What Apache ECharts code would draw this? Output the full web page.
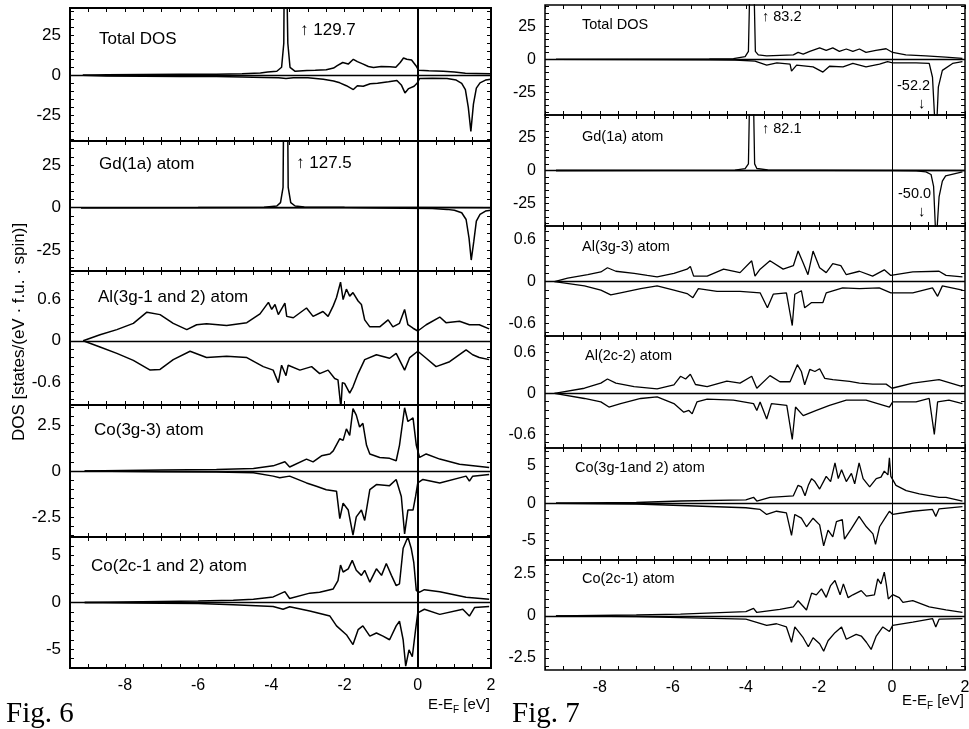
<!DOCTYPE html>
<html>
<head>
<meta charset="utf-8">
<script src="https://cdn.jsdelivr.net/npm/echarts@6/dist/echarts.min.js"></script>
<style>
  html, body { margin: 0; padding: 0; background: #fff; }
  #chart { width: 969px; height: 729px; }
</style>
</head>
<body>
<div id="chart"></div>
<script>
// ---- data: [E - EF (eV), DOS] ----
const xLabels = [-8, -6, -4, -2, 0, 2];
const yLabels25 = [-25, 0, 25];
const yLabels06 = [-0.6, 0, 0.6];
const yLabels25s = [-2.5, 0, 2.5];
const yLabels5 = [-5, 0, 5];

// Fig. 6
const f6TotalUp = [[-9.15,0],[-8.5,0.4],[-7.5,0.5],[-6.5,0.6],[-5.5,0.7],[-4.8,1.0],[-4.3,1.5],[-4.1,2.0],[-3.85,2.5],[-3.72,5],[-3.66,20],[-3.63,130],[-3.59,130],[-3.55,20],[-3.49,5],[-3.35,2.5],[-3.03,3.0],[-2.8,3.2],[-2.5,3.5],[-2.3,4.5],[-2.2,6],[-2.05,8],[-1.9,7],[-1.76,10],[-1.65,8.5],[-1.49,7],[-1.35,5.5],[-1.21,4.9],[-1.0,5.5],[-0.76,5.3],[-0.6,5.0],[-0.48,8],[-0.39,10.8],[-0.3,10],[-0.17,9.5],[-0.05,6],[0.02,3.2],[0.3,2.8],[0.7,2.6],[1.0,2.0],[1.3,1.3],[1.6,1.2],[2,1.0]];
const f6TotalDn = [[-9.15,0],[-8.5,-0.4],[-7.5,-0.6],[-6.5,-0.7],[-5.5,-0.8],[-4.8,-1.0],[-4.2,-1.3],[-3.8,-1.6],[-3.6,-2.0],[-3.4,-1.5],[-3.0,-1.5],[-2.58,-2.5],[-2.3,-3.5],[-2.13,-4.7],[-1.95,-6.5],[-1.76,-8.9],[-1.65,-6.5],[-1.49,-6.8],[-1.3,-5.3],[-1.1,-5.0],[-0.8,-4.0],[-0.57,-3.2],[-0.45,-6],[-0.35,-11],[-0.25,-8.3],[-0.1,-6.8],[-0.02,-5],[0.05,-2.0],[0.4,-1.9],[0.8,-2.0],[1.05,-3.0],[1.2,-5],[1.3,-9],[1.38,-20],[1.45,-35],[1.52,-18],[1.6,-8],[1.7,-4.7],[1.85,-3],[2,-2.5]];
const f6GdUp = [[-9.2,0],[-6,0.1],[-4.2,0.2],[-3.85,1.0],[-3.75,3],[-3.68,12],[-3.64,128],[-3.58,128],[-3.54,12],[-3.47,3],[-3.35,1.0],[-3.1,0.4],[-2,0.2],[0,0.1],[2,0]];
const f6GdDn = [[-9.2,0],[-2,-0.1],[0.4,-0.5],[0.8,-1.0],[1.0,-1.5],[1.2,-3],[1.32,-7],[1.4,-18],[1.46,-31],[1.53,-20],[1.6,-8],[1.7,-4],[1.85,-2],[2,-1.5]];
const f6AlUp = [[-9.14,0],[-8.68,0.087],[-8.22,0.16],[-7.77,0.25],[-7.4,0.41],[-7.04,0.375],[-6.68,0.25],[-6.31,0.16],[-6.04,0.23],[-5.77,0.245],[-5.22,0.22],[-4.67,0.26],[-4.31,0.385],[-4.08,0.55],[-3.99,0.45],[-3.9,0.52],[-3.81,0.375],[-3.63,0.54],[-3.58,0.35],[-3.4,0.33],[-3.04,0.47],[-2.86,0.35],[-2.59,0.42],[-2.45,0.35],[-2.31,0.5],[-2.22,0.62],[-2.11,0.84],[-2.04,0.59],[-1.95,0.74],[-1.86,0.64],[-1.77,0.69],[-1.63,0.57],[-1.54,0.52],[-1.45,0.3],[-1.31,0.2],[-1.04,0.2],[-0.81,0.3],[-0.68,0.2],[-0.5,0.25],[-0.36,0.45],[-0.27,0.23],[-0.13,0.18],[0,0.14],[0.23,0.23],[0.6,0.34],[0.77,0.26],[1.14,0.28],[1.41,0.23],[1.68,0.23],[1.95,0.17]];
const f6AlDn = [[-9.14,0],[-8.68,-0.09],[-8.22,-0.18],[-7.77,-0.28],[-7.31,-0.42],[-7.04,-0.41],[-6.68,-0.27],[-6.22,-0.15],[-5.77,-0.24],[-5.22,-0.22],[-4.67,-0.24],[-4.22,-0.37],[-3.95,-0.42],[-3.81,-0.6],[-3.72,-0.35],[-3.6,-0.5],[-3.54,-0.35],[-3.22,-0.42],[-2.9,-0.37],[-2.68,-0.47],[-2.45,-0.42],[-2.27,-0.54],[-2.18,-0.56],[-2.1,-0.96],[-2.06,-0.6],[-2.0,-0.61],[-1.86,-0.75],[-1.77,-0.66],[-1.63,-0.47],[-1.45,-0.27],[-1.13,-0.2],[-0.77,-0.25],[-0.59,-0.18],[-0.36,-0.42],[-0.22,-0.24],[0,-0.15],[0.23,-0.25],[0.5,-0.37],[0.87,-0.3],[1.32,-0.13],[1.5,-0.2],[1.68,-0.24],[1.95,-0.27]];
const f6Co3gUp = [[-9.1,0],[-7,0.05],[-5.5,0.08],[-4.49,0.13],[-3.95,0.28],[-3.63,0.5],[-3.5,0.22],[-3.04,0.65],[-2.86,0.5],[-2.63,0.83],[-2.4,0.93],[-2.31,1.1],[-2.13,1.76],[-2.04,1.67],[-1.95,2.3],[-1.86,1.94],[-1.77,3.4],[-1.68,3.05],[-1.59,2.4],[-1.5,2.6],[-1.4,1.4],[-1.31,0.93],[-1.04,0.74],[-0.77,0.69],[-0.59,0.56],[-0.5,1.4],[-0.36,3.45],[-0.27,2.7],[-0.13,2.9],[-0.04,1.4],[0.05,0.74],[0.23,0.93],[0.6,0.65],[1.14,0.37],[1.95,0.19]];
const f6Co3gDn = [[-9.1,0],[-7,-0.04],[-5.5,-0.06],[-4.49,-0.1],[-3.95,-0.28],[-3.77,-0.37],[-3.5,-0.28],[-3.04,-0.65],[-2.77,-0.83],[-2.5,-1.02],[-2.22,-1.1],[-2.13,-2.6],[-2.04,-1.76],[-1.9,-2.13],[-1.77,-3.5],[-1.68,-2.5],[-1.54,-2.13],[-1.45,-2.7],[-1.31,-1.02],[-1.13,-0.74],[-0.77,-0.8],[-0.59,-0.46],[-0.45,-1.39],[-0.36,-3.43],[-0.27,-2.13],[-0.13,-2.13],[-0.06,-1.39],[0,-0.65],[0.14,-0.46],[0.6,-0.65],[1.32,-0.28],[1.41,-0.55],[1.5,-0.28],[1.95,-0.19]];
const f6Co2cUp = [[-9.1,0],[-7,0.1],[-6,0.15],[-5.04,0.25],[-4.49,0.36],[-3.95,0.6],[-3.63,1.16],[-3.5,0.43],[-2.95,1.0],[-2.68,1.1],[-2.31,1.45],[-2.18,2.35],[-2.11,4.0],[-2.04,3.26],[-1.9,3.6],[-1.79,4.5],[-1.68,3.44],[-1.54,2.9],[-1.45,3.44],[-1.31,2.17],[-1.13,3.6],[-0.99,2.9],[-0.86,4.17],[-0.72,2.9],[-0.59,1.8],[-0.5,2.0],[-0.4,5.8],[-0.27,7.0],[-0.18,5.8],[-0.11,4.3],[-0.04,1.27],[0.05,1.1],[0.18,1.37],[0.6,1.16],[1.32,0.55],[1.95,0.36]];
const f6Co2cDn = [[-9.1,0],[-7,-0.08],[-6,-0.12],[-5.04,-0.25],[-3.95,-0.43],[-3.68,-0.72],[-3.5,-0.45],[-2.95,-0.9],[-2.4,-1.45],[-2.22,-2.5],[-1.95,-3.44],[-1.77,-4.5],[-1.63,-2.9],[-1.5,-2.5],[-1.31,-3.6],[-1.13,-3.26],[-0.95,-3.6],[-0.77,-3.98],[-0.59,-2.5],[-0.5,-2.0],[-0.4,-3.98],[-0.33,-6.8],[-0.24,-5.07],[-0.15,-5.8],[-0.06,-2.9],[0,-1.1],[0.18,-0.72],[0.6,-1.27],[1.23,-0.72],[1.41,-1.45],[1.55,-0.54],[1.95,-0.43]];

// Fig. 7
const f7TotalUp = [[-9.2,0],[-7,0.2],[-5,0.3],[-4.34,0.5],[-4.02,2],[-3.93,6],[-3.87,84],[-3.8,84],[-3.74,6],[-3.66,3.4],[-3.43,2.6],[-2.7,3.4],[-2.57,5.2],[-2.43,3.9],[-2.25,6],[-1.98,8.6],[-1.8,6.8],[-1.62,8.6],[-1.44,6],[-1.25,7.8],[-1.07,6],[-0.89,7.8],[-0.71,5.2],[-0.44,6.8],[-0.16,8],[0.02,5.2],[0.38,3.4],[0.93,2.6],[1.47,1.6],[1.93,0.8]];
const f7TotalDn = [[-9.2,0],[-7,-0.2],[-5,-0.3],[-4.3,-0.5],[-3.75,-1.3],[-3.43,-4.4],[-3.15,-2.6],[-2.79,-3.6],[-2.75,-8.9],[-2.61,-4.4],[-2.16,-5.7],[-1.89,-9.6],[-1.71,-5.2],[-1.34,-5.7],[-1.07,-3.1],[-0.71,-5.7],[-0.34,-3.6],[-0.12,-1.8],[0.02,-2.6],[0.66,-2.6],[1.02,-3.1],[1.11,-13.5],[1.17,-45],[1.22,-53],[1.27,-21],[1.38,-8.3],[1.66,-3.1],[1.93,-1.8]];
const f7GdUp = [[-9.2,0],[-6,0.1],[-4.3,0.3],[-4.02,1.5],[-3.93,5],[-3.88,83],[-3.81,83],[-3.76,5],[-3.7,1.5],[-3.4,0.4],[-2,0.2],[2,0]];
const f7GdDn = [[-9.2,0],[0,-0.1],[0.66,-0.3],[0.93,-1],[1.07,-3],[1.14,-12],[1.2,-50],[1.24,-42],[1.29,-20],[1.38,-8],[1.47,-4],[1.93,-1]];
const f7Al3gUp = [[-9.24,0],[-8.88,0.05],[-8.33,0.1],[-7.97,0.14],[-7.79,0.2],[-7.56,0.15],[-7.06,0.12],[-6.7,0.09],[-6.43,0.07],[-5.97,0.12],[-5.61,0.18],[-5.52,0.22],[-5.43,0.08],[-5.06,0.08],[-4.61,0.18],[-4.16,0.13],[-3.84,0.3],[-3.75,0.08],[-3.61,0.18],[-3.34,0.3],[-2.98,0.18],[-2.7,0.23],[-2.57,0.44],[-2.43,0.27],[-2.3,0.1],[-2.16,0.44],[-1.98,0.2],[-1.8,0.13],[-1.62,0.26],[-1.4,0.23],[-1.25,0.1],[-0.89,0.15],[-0.53,0.08],[-0.21,0.17],[-0.03,0.09],[0.57,0.14],[1.29,0.15],[1.48,0.09],[1.93,0.07]];
const f7Al3gDn = [[-9.24,0],[-8.42,-0.06],[-7.97,-0.12],[-7.7,-0.19],[-7.43,-0.16],[-6.88,-0.1],[-6.43,-0.06],[-5.97,-0.12],[-5.61,-0.17],[-5.45,-0.23],[-5.3,-0.1],[-4.79,-0.14],[-4.16,-0.14],[-3.61,-0.16],[-3.41,-0.375],[-3.25,-0.18],[-2.89,-0.16],[-2.73,-0.63],[-2.66,-0.18],[-2.48,-0.13],[-2.39,-0.375],[-2.2,-0.3],[-1.89,-0.3],[-1.8,-0.16],[-1.35,-0.09],[-0.89,-0.1],[-0.35,-0.09],[-0.03,-0.16],[0.57,-0.16],[1.11,-0.09],[1.25,-0.21],[1.38,-0.06],[1.93,-0.12]];
const f7Al2cUp = [[-9.24,0],[-8.42,0.075],[-7.97,0.15],[-7.79,0.21],[-7.56,0.15],[-7.06,0.1],[-6.43,0.065],[-5.97,0.125],[-5.79,0.25],[-5.65,0.21],[-5.52,0.28],[-5.38,0.13],[-5.06,0.1],[-4.52,0.18],[-4.16,0.15],[-3.84,0.25],[-3.7,0.075],[-3.34,0.26],[-3.07,0.17],[-2.79,0.17],[-2.59,0.42],[-2.48,0.32],[-2.39,0.125],[-2.25,0.35],[-2.11,0.32],[-1.98,0.36],[-1.84,0.22],[-1.62,0.2],[-1.16,0.175],[-0.89,0.15],[-0.53,0.135],[-0.16,0.135],[0,0.075],[0.57,0.15],[1.29,0.2],[1.93,0.1]];
const f7Al2cDn = [[-9.24,0],[-8.42,-0.075],[-7.97,-0.125],[-7.75,-0.2],[-7.43,-0.15],[-6.88,-0.075],[-6.43,-0.05],[-5.97,-0.15],[-5.7,-0.275],[-5.56,-0.25],[-5.47,-0.3],[-5.34,-0.125],[-5.06,-0.085],[-4.34,-0.1],[-3.79,-0.15],[-3.7,-0.25],[-3.61,-0.125],[-3.43,-0.375],[-3.3,-0.15],[-2.88,-0.175],[-2.73,-0.675],[-2.64,-0.2],[-2.43,-0.325],[-2.07,-0.25],[-1.71,-0.175],[-1.25,-0.1],[-0.71,-0.1],[-0.07,-0.2],[0.02,-0.125],[0.66,-0.125],[1.02,-0.075],[1.16,-0.6],[1.25,-0.125],[1.56,-0.1],[1.93,-0.15]];
const f7Co3gUp = [[-9.2,0],[-7,0.1],[-5.79,0.3],[-4.0,0.46],[-3.79,0.8],[-3.7,0.3],[-3.34,0.8],[-2.7,1.0],[-2.57,2.4],[-2.48,2.2],[-2.38,1.0],[-2.29,2.4],[-2.2,3.3],[-2.11,2.9],[-1.98,1.9],[-1.8,3.6],[-1.68,2.9],[-1.56,5.4],[-1.47,3.3],[-1.38,4.5],[-1.25,2.9],[-1.11,4.0],[-1.02,2.6],[-0.9,5.4],[-0.79,3.3],[-0.61,2.2],[-0.43,3.3],[-0.3,3.5],[-0.21,4.3],[-0.11,3.8],[-0.07,6.1],[-0.03,3.6],[0.11,2.4],[0.39,1.7],[0.75,1.25],[1.29,0.8],[1.48,0.8],[1.93,0.3]];
const f7Co3gDn = [[-9.2,0],[-7,-0.1],[-5.79,-0.3],[-4.0,-0.6],[-3.61,-0.83],[-3.43,-1.5],[-3.16,-1.07],[-2.89,-1.3],[-2.75,-4.3],[-2.66,-1.5],[-2.48,-2.0],[-2.34,-3.15],[-2.16,-2.0],[-1.98,-2.9],[-1.87,-5.7],[-1.75,-3.6],[-1.62,-4.5],[-1.52,-2.45],[-1.36,-2.2],[-1.3,-4.8],[-1.11,-3.4],[-0.9,-1.76],[-0.7,-3.15],[-0.52,-4.1],[-0.45,-5.5],[-0.34,-3.15],[-0.16,-1.76],[-0.07,-1.07],[0.02,-1.5],[0.57,-1.07],[1.11,-0.83],[1.2,-1.76],[1.29,-0.75],[1.93,-0.46]];
const f7Co2cUp = [[-9.2,0],[-7,0.05],[-5.79,0.1],[-4.0,0.25],[-3.79,0.44],[-3.7,0.2],[-3.07,0.38],[-2.7,0.53],[-2.57,0.9],[-2.34,0.35],[-2.2,1.35],[-2.07,1.25],[-1.93,1.6],[-1.8,1.1],[-1.68,1.8],[-1.56,2.1],[-1.42,1.25],[-1.33,1.9],[-1.2,1.08],[-1.07,1.25],[-0.84,1.5],[-0.7,1.17],[-0.48,1.25],[-0.39,2.2],[-0.3,1.9],[-0.21,2.6],[-0.15,1.8],[-0.1,1.0],[0.02,1.26],[0.2,1.08],[0.3,0.8],[0.57,0.9],[1.02,0.53],[1.48,0.35],[1.93,0.2]];
const f7Co2cDn = [[-9.2,0],[-7,-0.05],[-5.79,-0.11],[-4.0,-0.2],[-3.43,-0.57],[-3.16,-0.47],[-2.89,-0.66],[-2.75,-1.57],[-2.66,-0.66],[-2.43,-1.3],[-2.29,-1.84],[-2.16,-1.3],[-1.98,-1.66],[-1.87,-2.1],[-1.75,-1.48],[-1.56,-1.0],[-1.38,-0.66],[-1.25,-1.39],[-0.98,-1.1],[-0.84,-1.2],[-0.7,-1.57],[-0.57,-2.0],[-0.43,-1.2],[-0.25,-0.66],[-0.07,-0.93],[0.02,-0.57],[0.57,-0.38],[1.11,-0.16],[1.2,-0.66],[1.29,-0.2],[1.93,-0.16]];

// ---- layout ----
const FONT = '"Liberation Sans", Arial, sans-serif';
const SERIF = '"Liberation Serif", "Times New Roman", serif';
const xMin = -9.5, xMax = 2;
const figs = {
  6: { left: 70, width: 421, border: 2, lw: 1.5, vline: 2, title: 17, tick: 17 },
  7: { left: 545, width: 420, border: 1.5, lw: 1.3, vline: 1, title: 14.5, tick: 16 }
};
const panels = [
  { fig: 6, top: 8,   bottom: 141, min: -41,   max: 42,   labels: yLabels25,  minor: 5,    up: f6TotalUp, dn: f6TotalDn, name: 'Total DOS',            tx: 99, ty: 39 },
  { fig: 6, top: 141, bottom: 271, min: -37.5, max: 39.5, labels: yLabels25,  minor: 5,    up: f6GdUp,    dn: f6GdDn,    name: 'Gd(1a) atom',          tx: 99, ty: 164 },
  { fig: 6, top: 271, bottom: 405, min: -0.92, max: 1.0,  labels: yLabels06,  minor: 0.12, up: f6AlUp,    dn: f6AlDn,    name: 'Al(3g-1 and 2) atom',  tx: 98, ty: 297 },
  { fig: 6, top: 405, bottom: 537, min: -3.6,  max: 3.6,  labels: yLabels25s, minor: 0.5,  up: f6Co3gUp,  dn: f6Co3gDn,  name: 'Co(3g-3) atom',        tx: 94, ty: 430 },
  { fig: 6, top: 537, bottom: 668, min: -7,    max: 7,    labels: yLabels5,   minor: 1,    up: f6Co2cUp,  dn: f6Co2cDn,  name: 'Co(2c-1 and 2) atom',  tx: 91, ty: 566, xlab: true },
  { fig: 7, top: 5,   bottom: 115, min: -42,   max: 41,   labels: yLabels25,  minor: 5,    up: f7TotalUp, dn: f7TotalDn, name: 'Total DOS',            tx: 582, ty: 25 },
  { fig: 7, top: 115, bottom: 226, min: -42,   max: 42,   labels: yLabels25,  minor: 5,    up: f7GdUp,    dn: f7GdDn,    name: 'Gd(1a) atom',          tx: 582, ty: 137 },
  { fig: 7, top: 226, bottom: 336, min: -0.78, max: 0.8,  labels: yLabels06,  minor: 0.12, up: f7Al3gUp,  dn: f7Al3gDn,  name: 'Al(3g-3) atom',        tx: 582, ty: 247 },
  { fig: 7, top: 336, bottom: 448, min: -0.8,  max: 0.84, labels: yLabels06,  minor: 0.12, up: f7Al2cUp,  dn: f7Al2cDn,  name: 'Al(2c-2) atom',        tx: 585, ty: 356 },
  { fig: 7, top: 448, bottom: 560, min: -7.6,  max: 7.4,  labels: yLabels5,   minor: 1,    up: f7Co3gUp,  dn: f7Co3gDn,  name: 'Co(3g-1and 2) atom',   tx: 575, ty: 468 },
  { fig: 7, top: 560, bottom: 670, min: -3.22, max: 3.32, labels: yLabels25s, minor: 0.5,  up: f7Co2cUp,  dn: f7Co2cDn,  name: 'Co(2c-1) atom',        tx: 582, ty: 579, xlab: true }
];

const xTicks = [];
for (let k = Math.round(xMin / 0.5); k <= Math.round(xMax / 0.5); k++) xTicks.push(k * 0.5);

function yTicks(p) {
  const out = [];
  for (let k = Math.ceil(p.min / p.minor - 1e-9); k <= Math.floor(p.max / p.minor + 1e-9); k++) {
    out.push(+(k * p.minor).toFixed(4));
  }
  return out;
}

const grid = [], xAxis = [], yAxis = [], series = [], graphic = [];
const tickStyle = { color: '#000', width: 1 };

panels.forEach((p, i) => {
  const f = figs[p.fig];
  grid.push({
    left: f.left, top: p.top, width: f.width, height: p.bottom - p.top,
    outerBoundsMode: 'none', containLabel: false,
    show: true, borderColor: '#000', borderWidth: f.border, backgroundColor: 'transparent'
  });
  ['bottom', 'top'].forEach(pos => {
    xAxis.push({
      gridIndex: i, type: 'value', position: pos, min: xMin, max: xMax,
      axisLine: { show: false, onZero: false }, splitLine: { show: false },
      axisTick: { show: true, inside: true, length: 4, customValues: xTicks, lineStyle: tickStyle },
      axisLabel: {
        show: pos === 'bottom' && !!p.xlab, customValues: xLabels, margin: 10,
        color: '#000', fontSize: 16, fontFamily: FONT
      }
    });
  });
  ['left', 'right'].forEach(pos => {
    yAxis.push({
      gridIndex: i, type: 'value', position: pos, min: p.min, max: p.max,
      axisLine: { show: false, onZero: false }, splitLine: { show: false },
      axisTick: { show: true, inside: true, length: 4, customValues: yTicks(p), lineStyle: tickStyle },
      axisLabel: {
        show: pos === 'left', customValues: p.labels, margin: 9,
        color: '#000', fontSize: f.tick, fontFamily: FONT
      }
    });
  });
  const line = {
    type: 'line', xAxisIndex: 2 * i, yAxisIndex: 2 * i, showSymbol: false, symbol: 'none',
    silent: true, clip: true, lineStyle: { color: '#000', width: f.lw }
  };
  series.push(Object.assign({}, line, {
    data: p.up,
    markLine: {
      silent: true, symbol: 'none', label: { show: false }, animation: false,
      lineStyle: { type: 'solid', color: '#000' },
      data: [
        { yAxis: 0, lineStyle: { type: 'solid', color: '#000', width: 1.3 } },
        { xAxis: 0, lineStyle: { type: 'solid', color: '#000', width: f.vline } }
      ]
    }
  }));
  series.push(Object.assign({}, line, { data: p.dn }));

  graphic.push({
    type: 'text', x: p.tx, y: p.ty,
    style: { text: p.name, fill: '#000', fontSize: f.title, fontFamily: FONT, verticalAlign: 'middle' }
  });
});

// peak annotations
const notes = [
  { text: '\u2191 129.7', x: 300, y: 30, size: 17 },
  { text: '\u2191 127.5', x: 296, y: 163, size: 17 },
  { text: '\u2191 83.2', x: 762, y: 17, size: 14.5 },
  { text: '\u2191 82.1', x: 762, y: 129, size: 14.5 },
  { text: '-52.2', x: 897, y: 86, size: 14.5 },
  { text: '\u2193', x: 918, y: 104, size: 15 },
  { text: '-50.0', x: 898, y: 194, size: 14.5 },
  { text: '\u2193', x: 918, y: 212, size: 15 }
];
notes.forEach(n => graphic.push({
  type: 'text', x: n.x, y: n.y,
  style: { text: n.text, fill: '#000', fontSize: n.size, fontFamily: FONT, verticalAlign: 'middle' }
}));

// axis titles and figure captions
const axisTitle = {
  a: { fontSize: 15, fontFamily: FONT, lineHeight: 20, fill: '#000' },
  s: { fontSize: 10, fontFamily: FONT, lineHeight: 20, verticalAlign: 'bottom', fill: '#000' }
};
[{ x: 490, y: 705 }, { x: 964, y: 701 }].forEach(pos => graphic.push({
  type: 'text', x: pos.x, y: pos.y,
  style: { text: '{a|E-E}{s|F}{a| [eV]}', rich: axisTitle, align: 'right', verticalAlign: 'middle' }
}));
graphic.push({
  type: 'text', x: 19, y: 332, rotation: Math.PI / 2,
  style: { text: 'DOS [states/(eV \u00b7 f.u. \u00b7 spin)]', fill: '#000', fontSize: 17, fontFamily: FONT, align: 'center', verticalAlign: 'middle' }
});
graphic.push({ type: 'text', x: 6, y: 714, style: { text: 'Fig. 6', fill: '#000', fontSize: 29, fontFamily: SERIF, verticalAlign: 'middle' } });
graphic.push({ type: 'text', x: 512, y: 714, style: { text: 'Fig. 7', fill: '#000', fontSize: 29, fontFamily: SERIF, verticalAlign: 'middle' } });

const chart = echarts.init(document.getElementById('chart'), null, { renderer: 'canvas' });
chart.setOption({
  backgroundColor: '#fff',
  animation: false,
  grid, xAxis, yAxis, series, graphic
});
</script>
</body>
</html>
